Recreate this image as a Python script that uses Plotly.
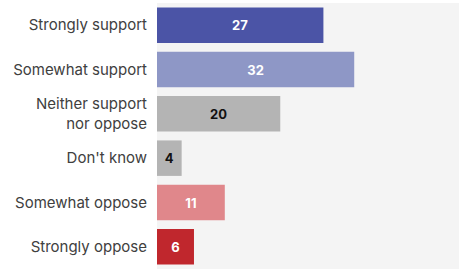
import plotly.graph_objects as go

categories = ["Strongly support", "Somewhat support", "Neither support<br>nor oppose",
              "Don't know", "Somewhat oppose", "Strongly oppose"]
values = [27, 32, 20, 4, 11, 6]
bar_colors = ["#4b54a6", "#8e97c6", "#b4b4b4", "#b4b4b4", "#e0878b", "#c0272d"]
text_colors = ["#ffffff", "#ffffff", "#111111", "#111111", "#ffffff", "#ffffff"]

fig = go.Figure(go.Bar(
    x=values, y=categories, orientation="h",
    marker=dict(color=bar_colors, line=dict(width=0)),
    text=[str(v) for v in values],
    textposition="inside", insidetextanchor="middle",
    textfont=dict(family="Inter, sans-serif", size=13, color=text_colors, weight="bold"),
    constraintext="none",
    hoverinfo="skip",
))

fig.update_layout(
    width=459, height=269,
    margin=dict(l=157, r=0, t=3, b=0, autoexpand=False),
    paper_bgcolor="#ffffff", plot_bgcolor="#f4f4f4",
    bargap=0.2, showlegend=False,
    xaxis=dict(range=[0, 49], visible=False, showgrid=False, zeroline=False),
    yaxis=dict(autorange="reversed", showgrid=False, zeroline=False, automargin=False,
               ticks="", ticklabelstandoff=9,
               tickfont=dict(family="Inter, sans-serif", size=15, color="#404040")),
)

fig.write_html("out.html", config={"displayModeBar": False},
               post_script="document.body.style.margin='0';document.body.style.overflow='hidden';")
